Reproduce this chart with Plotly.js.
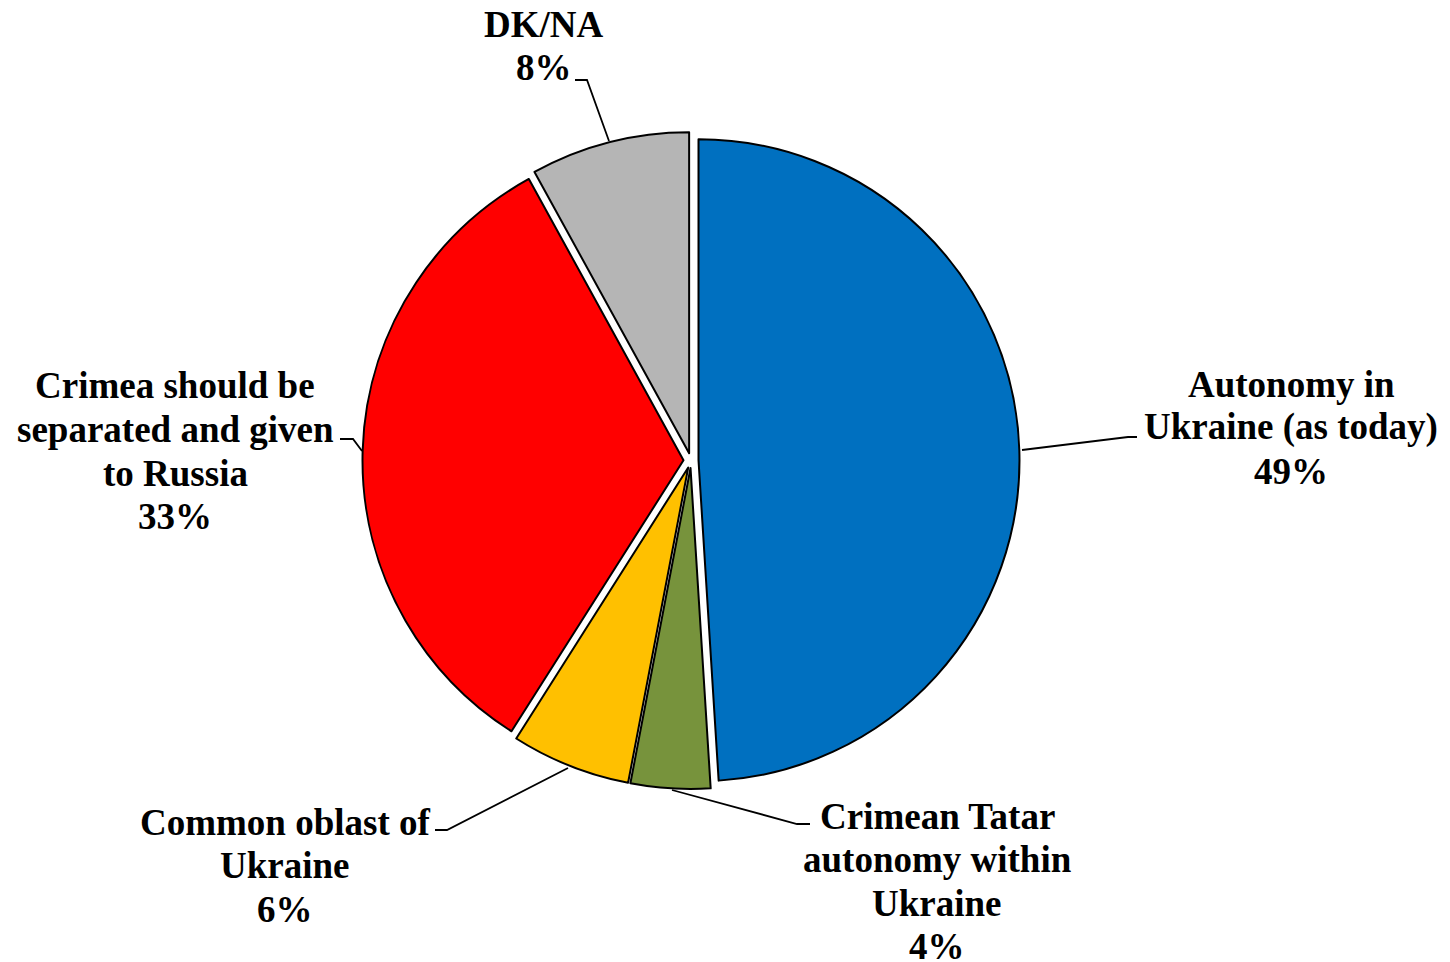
<!DOCTYPE html>
<html>
<head>
<meta charset="utf-8">
<script src="https://cdn.plot.ly/plotly-3.0.1.min.js"></script>
<style>
  html, body { margin: 0; padding: 0; background: #ffffff; }
  #chart { width: 1450px; height: 962px; }
</style>
</head>
<body>
<div id="chart"></div>
<script>
// ---- Data ----
const categories = [
  "Autonomy in Ukraine (as today)",
  "Crimean Tatar autonomy within Ukraine",
  "Common oblast of Ukraine",
  "Crimea should be separated and given to Russia",
  "DK/NA"
];
const values = [49, 4, 6, 33, 8];
const labelLines = [
  ["Autonomy in", "Ukraine (as today)"],
  ["Crimean Tatar", "autonomy within", "Ukraine"],
  ["Common oblast of", "Ukraine"],
  ["Crimea should be", "separated and given", "to Russia"],
  ["DK/NA"]
];
const colors = ["#0070C0", "#77933C", "#FFC000", "#FF0000", "#B5B5B5"];

// ---- Layout helpers (pixel -> paper) ----
const W = 1450, H = 962;
const px = x => x / W;
const py = y => 1 - y / H;
const LINE = 43.5;

// label block: centre x, first line centre y
const labelPos = [
  [1291, 384],
  [937, 816],
  [285, 822],
  [175, 386],
  [544, 24]
];
const leaderPaths = [
  [[1022, 450], [1128, 437], [1137, 437]],
  [[672, 790], [797, 824], [810, 824]],
  [[568, 768], [447, 830], [435, 830]],
  [[362, 451], [353, 439], [340, 439]],
  [[609, 141], [587, 80], [575, 80]]
];

const trace = {
  type: "pie",
  labels: categories,
  values: values,
  sort: false,
  direction: "clockwise",
  rotation: 0,
  pull: values.map(() => 0.0234),
  textinfo: "none",
  hoverinfo: "none",
  showlegend: false,
  marker: { colors: colors, line: { color: "#000000", width: 2 } },
  domain: { x: [0.25, 0.7031], y: [0.1798, 0.8628] }
};

const annotations = [];
categories.forEach((c, i) => {
  const lines = labelLines[i].concat([values[i] + "%"]);
  lines.forEach((t, k) => {
    annotations.push({
      xref: "paper", yref: "paper",
      x: px(labelPos[i][0]), y: py(labelPos[i][1] + k * LINE),
      xanchor: "center", yanchor: "middle",
      showarrow: false,
      text: "<b>" + t + "</b>",
      font: { family: "Liberation Serif", size: 37, color: "#000000" }
    });
  });
});

const shapes = leaderPaths.map(pts => ({
  type: "path",
  xref: "paper", yref: "paper",
  path: pts.map((p, k) => (k === 0 ? "M" : "L") + px(p[0]) + "," + py(p[1])).join(" "),
  line: { color: "#000000", width: 1.8 }
}));

const layout = {
  width: W, height: H,
  margin: { l: 0, r: 0, t: 0, b: 0 },
  paper_bgcolor: "#ffffff",
  plot_bgcolor: "#ffffff",
  font: { family: "Liberation Serif" },
  annotations: annotations,
  shapes: shapes
};

Plotly.newPlot("chart", [trace], layout, { displayModeBar: false, staticPlot: true });
</script>
</body>
</html>
